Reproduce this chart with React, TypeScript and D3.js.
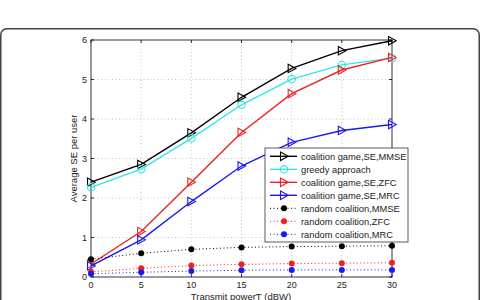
import * as d3 from "d3";
import { useEffect, useRef } from "react";

const power = [0, 5, 10, 15, 20, 25, 30];
const gameMmse = [2.4, 2.85, 3.65, 4.55, 5.28, 5.73, 5.98];
const greedy = [2.27, 2.73, 3.51, 4.36, 5.01, 5.37, 5.54];
const gameZfc = [0.33, 1.15, 2.4, 3.66, 4.64, 5.24, 5.56];
const gameMrc = [0.28, 0.94, 1.91, 2.81, 3.41, 3.71, 3.86];
const randMmse = [0.45, 0.6, 0.7, 0.75, 0.77, 0.78, 0.79];
const randZfc = [0.13, 0.22, 0.29, 0.32, 0.34, 0.35, 0.36];
const randMrc = [0.08, 0.12, 0.15, 0.17, 0.18, 0.18, 0.18];
const yTicks = [0, 1, 2, 3, 4, 5, 6];

type Series = {
  name: string;
  values: number[];
  color: string;
  marker: "tri" | "circle" | "dot";
  dotted: boolean;
};

const series: Series[] = [
  { name: "coalition game,SE,MMSE", values: gameMmse, color: "#000000", marker: "tri", dotted: false },
  { name: "greedy approach", values: greedy, color: "#33e6e6", marker: "circle", dotted: false },
  { name: "coalition game,SE,ZFC", values: gameZfc, color: "#ee2222", marker: "tri", dotted: false },
  { name: "coalition game,SE,MRC", values: gameMrc, color: "#1a1aee", marker: "tri", dotted: false },
  { name: "random coalition,MMSE", values: randMmse, color: "#000000", marker: "dot", dotted: true },
  { name: "random coalition,ZFC", values: randZfc, color: "#ee2222", marker: "dot", dotted: true },
  { name: "random coalition,MRC", values: randMrc, color: "#1a1aee", marker: "dot", dotted: true },
];

const W = 481;
const H = 300;
const font = "'Liberation Sans', Arial, sans-serif";

const drawMarker = (g: any, kind: string, color: string, cx: number, cy: number) => {
  if (kind === "tri") {
    g.append("path")
      .attr("d", `M${cx - 3.5},${cy - 4.2}L${cx + 4.2},${cy}L${cx - 3.5},${cy + 4.2}Z`)
      .attr("fill", "none")
      .attr("stroke", color)
      .attr("stroke-width", 1.1);
  } else if (kind === "circle") {
    g.append("circle")
      .attr("cx", cx).attr("cy", cy).attr("r", 3.7)
      .attr("fill", "none")
      .attr("stroke", color)
      .attr("stroke-width", 1.1);
  } else {
    g.append("circle")
      .attr("cx", cx).attr("cy", cy).attr("r", 3)
      .attr("fill", color);
  }
};

const App = () => {
  const ref = useRef<SVGSVGElement>(null);

  useEffect(() => {
    const svg = d3.select(ref.current);
    svg.selectChildren().remove();

    // rounded outer frame
    svg.append("rect")
      .attr("x", 0.75).attr("y", 28.75)
      .attr("width", W - 2.5).attr("height", 300)
      .attr("rx", 6)
      .attr("fill", "white")
      .attr("stroke", "#444")
      .attr("stroke-width", 1.5);

    const x = d3.scaleLinear().domain([0, 30]).range([91, 392]);
    const y = d3.scaleLinear().domain([0, 6]).range([277, 40]);

    // dotted grid
    const grid = svg.append("g")
      .attr("stroke", "#b5b5b5")
      .attr("stroke-width", 0.8)
      .attr("stroke-dasharray", "1,2.5");
    power.slice(1, -1).forEach(p => {
      grid.append("line").attr("x1", x(p)).attr("x2", x(p)).attr("y1", y(0)).attr("y2", y(6));
    });
    yTicks.slice(1, -1).forEach(t => {
      grid.append("line").attr("x1", x(0)).attr("x2", x(30)).attr("y1", y(t)).attr("y2", y(t));
    });

    // axes box with inward ticks
    const axes = svg.append("g").attr("stroke", "#000").attr("stroke-width", 0.8);
    axes.append("rect")
      .attr("x", x(0)).attr("y", y(6))
      .attr("width", x(30) - x(0)).attr("height", y(0) - y(6))
      .attr("fill", "none");
    power.forEach(p => {
      axes.append("line").attr("x1", x(p)).attr("x2", x(p)).attr("y1", y(0)).attr("y2", y(0) - 3);
      axes.append("line").attr("x1", x(p)).attr("x2", x(p)).attr("y1", y(6)).attr("y2", y(6) + 3);
    });
    yTicks.forEach(t => {
      axes.append("line").attr("x1", x(0)).attr("x2", x(0) + 3).attr("y1", y(t)).attr("y2", y(t));
      axes.append("line").attr("x1", x(30)).attr("x2", x(30) - 3).attr("y1", y(t)).attr("y2", y(t));
    });

    const labels = svg.append("g")
      .attr("font-family", font)
      .attr("font-size", 9)
      .attr("fill", "#222");
    power.forEach(p => {
      labels.append("text")
        .attr("x", x(p)).attr("y", y(0) + 10.5)
        .attr("text-anchor", "middle")
        .text(p);
    });
    yTicks.forEach(t => {
      labels.append("text")
        .attr("x", x(0) - 4).attr("y", y(t) + 3.2)
        .attr("text-anchor", "end")
        .text(t);
    });
    labels.append("text")
      .attr("x", 241).attr("y", 299.5)
      .attr("text-anchor", "middle")
      .attr("font-size", 9.5)
      .text("Transmit power\u01AC (dBW)");
    labels.append("text")
      .attr("transform", `translate(77,${(y(0) + y(6)) / 2}) rotate(-90)`)
      .attr("text-anchor", "middle")
      .attr("font-size", 9.5)
      .text("Average SE per user");

    // series
    const line = d3.line<number>()
      .x((_, i) => x(power[i]))
      .y(d => y(d));

    series.forEach(s => {
      svg.append("path")
        .datum(s.values)
        .attr("fill", "none")
        .attr("stroke", s.color)
        .attr("stroke-width", s.dotted ? 1 : 1.4)
        .attr("stroke-dasharray", s.dotted ? "1,2.5" : null)
        .attr("d", line);
      const mk = svg.append("g");
      s.values.forEach((v, i) => drawMarker(mk, s.marker, s.color, x(power[i]), y(v)));
    });

    // legend
    const lx = 265, ly = 148, lw = 143, rowH = 13;
    const legend = svg.append("g");
    legend.append("rect")
      .attr("x", lx).attr("y", ly)
      .attr("width", lw).attr("height", rowH * series.length + 3)
      .attr("fill", "white")
      .attr("stroke", "#333")
      .attr("stroke-width", 0.8);
    series.forEach((s, i) => {
      const cy = ly + 8.3 + i * rowH;
      legend.append("line")
        .attr("x1", lx + 5).attr("x2", lx + 32)
        .attr("y1", cy).attr("y2", cy)
        .attr("stroke", s.color)
        .attr("stroke-width", s.dotted ? 1 : 1.4)
        .attr("stroke-dasharray", s.dotted ? "1,2.5" : null);
      drawMarker(legend, s.marker, s.color, lx + 19, cy);
      legend.append("text")
        .attr("x", lx + 36).attr("y", cy + 3.4)
        .attr("font-family", font)
        .attr("font-size", 9.3)
        .attr("fill", "#222")
        .text(s.name);
    });
  }, []);

  return (
    <svg
      ref={ref}
      width={W}
      height={H}
      style={{ position: "absolute", left: 0, top: 0, background: "white" }}
    />
  );
};

export default App;
